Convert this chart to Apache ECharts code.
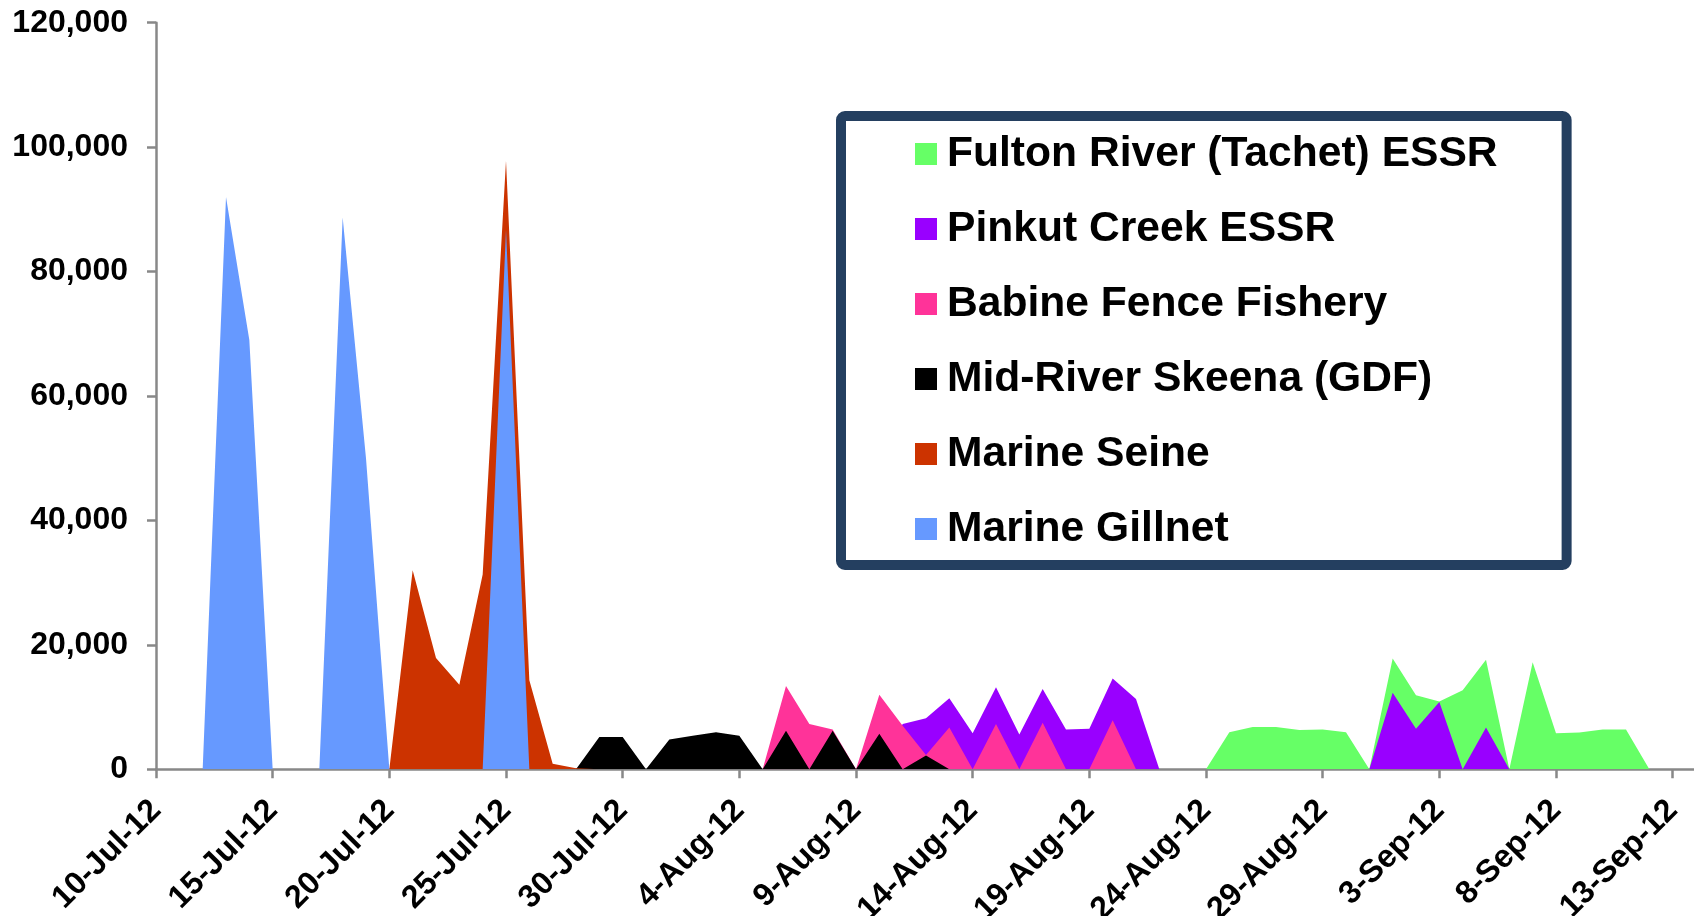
<!DOCTYPE html>
<html>
<head>
<meta charset="utf-8">
<script src="https://cdn.jsdelivr.net/npm/echarts@6/dist/echarts.min.js"></script>
<style>
  html, body { margin: 0; padding: 0; background: #ffffff; }
  #chart { width: 1694px; height: 916px; }
</style>
</head>
<body>
<div id="chart"></div>
<script>
// ---- Data ----
const startDate = '2012-07-10';
const endDay = 66; // axis runs to 14-Sep-12
const xTickLabels = ['10-Jul-12', '15-Jul-12', '20-Jul-12', '25-Jul-12', '30-Jul-12',
  '4-Aug-12', '9-Aug-12', '14-Aug-12', '19-Aug-12', '24-Aug-12', '29-Aug-12',
  '3-Sep-12', '8-Sep-12', '13-Sep-12'];
const yTicks = [0, 20000, 40000, 60000, 80000, 100000, 120000];

const seriesNames = ['Fulton River (Tachet) ESSR', 'Pinkut Creek ESSR', 'Babine Fence Fishery',
  'Mid-River Skeena (GDF)', 'Marine Seine', 'Marine Gillnet'];
const seriesColors = ['#66FF66', '#9900FF', '#FF3399', '#000000', '#CC3300', '#6699FF'];

const fultonRiver = [
  ['2012-08-24', 0], ['2012-08-25', 5950], ['2012-08-26', 6800], ['2012-08-27', 6800],
  ['2012-08-28', 6300], ['2012-08-29', 6400], ['2012-08-30', 5950], ['2012-08-31', 0],
  ['2012-09-01', 17800], ['2012-09-02', 11900], ['2012-09-03', 10900], ['2012-09-04', 12700],
  ['2012-09-05', 17600], ['2012-09-06', 0], ['2012-09-07', 17200], ['2012-09-08', 5800],
  ['2012-09-09', 5900], ['2012-09-10', 6400], ['2012-09-11', 6400], ['2012-09-12', 0]
];
const pinkutCreek = [
  ['2012-08-10', 0], ['2012-08-11', 7300], ['2012-08-12', 8200], ['2012-08-13', 11400],
  ['2012-08-14', 5800], ['2012-08-15', 13200], ['2012-08-16', 5600], ['2012-08-17', 12900],
  ['2012-08-18', 6400], ['2012-08-19', 6500], ['2012-08-20', 14600], ['2012-08-21', 11300],
  ['2012-08-22', 0], ['2012-08-31', 0], ['2012-09-01', 12300], ['2012-09-02', 6500],
  ['2012-09-03', 10800], ['2012-09-04', 0], ['2012-09-05', 6700], ['2012-09-06', 0]
];
const babineFence = [
  ['2012-08-05', 0], ['2012-08-06', 13400], ['2012-08-07', 7300], ['2012-08-08', 6400],
  ['2012-08-09', 0], ['2012-08-10', 12000], ['2012-08-11', 7000], ['2012-08-12', 2300],
  ['2012-08-13', 6700], ['2012-08-14', 0], ['2012-08-15', 7300], ['2012-08-16', 0],
  ['2012-08-17', 7500], ['2012-08-18', 0], ['2012-08-19', 0], ['2012-08-20', 7900],
  ['2012-08-21', 0]
];
const midRiverSkeena = [
  ['2012-07-28', 0], ['2012-07-29', 5200], ['2012-07-30', 5200], ['2012-07-31', 0],
  ['2012-08-01', 4800], ['2012-08-02', 5400], ['2012-08-03', 5950], ['2012-08-04', 5400],
  ['2012-08-05', 0], ['2012-08-06', 6200], ['2012-08-07', 0], ['2012-08-08', 6200],
  ['2012-08-09', 0], ['2012-08-10', 5700], ['2012-08-11', 0], ['2012-08-12', 2200],
  ['2012-08-13', 0]
];
const marineSeine = [
  ['2012-07-20', 0], ['2012-07-21', 32000], ['2012-07-22', 17900], ['2012-07-23', 13600],
  ['2012-07-24', 31300], ['2012-07-25', 97800], ['2012-07-26', 14300], ['2012-07-27', 900],
  ['2012-07-28', 150], ['2012-07-29', 0]
];
const marineGillnet = [
  ['2012-07-12', 0], ['2012-07-13', 92000], ['2012-07-14', 69000], ['2012-07-15', 0],
  ['2012-07-17', 0], ['2012-07-18', 88700], ['2012-07-19', 50000], ['2012-07-20', 0],
  ['2012-07-24', 0], ['2012-07-25', 86700], ['2012-07-26', 0]
];
const seriesData = [fultonRiver, pinkutCreek, babineFence, midRiverSkeena, marineSeine, marineGillnet];

// ---- Helpers ----
const DAY = 86400000;
const t0 = Date.parse(startDate);
function dayIndex(dateStr) { return Math.round((Date.parse(dateStr) - t0) / DAY); }
function fmtThousands(v) { return String(v).replace(/\B(?=(\d{3})+(?!\d))/g, ','); }

const FONT = "'Liberation Sans', Arial, Helvetica, sans-serif";
const AXIS_GRAY = '#888888';

const chart = echarts.init(document.getElementById('chart'), null, { renderer: 'canvas' });

const series = seriesNames.map((name, i) => ({
  name: name,
  type: 'line',
  data: seriesData[i].map(p => [dayIndex(p[0]), p[1]]),
  showSymbol: false,
  symbol: 'none',
  silent: true,
  animation: false,
  itemStyle: { color: seriesColors[i] },
  lineStyle: { width: 0, color: seriesColors[i] },
  areaStyle: { color: seriesColors[i], opacity: 1 }
}));

chart.setOption({
  backgroundColor: '#ffffff',
  animation: false,
  grid: {
    left: 156, top: 22.7, right: -2, bottom: 146.7,
    containLabel: false, outerBoundsMode: 'none'
  },
  legend: {
    data: seriesNames,
    orient: 'vertical',
    left: 841, top: 116,
    icon: 'rect',
    itemWidth: 22, itemHeight: 22,
    itemGap: 31,
    padding: [16, 69, 14, 74],
    backgroundColor: '#ffffff',
    borderColor: '#243F60',
    borderWidth: 10,
    borderRadius: 4,
    selectedMode: false,
    textStyle: {
      fontFamily: FONT, fontSize: 42.6, fontWeight: 'bold', color: '#000000',
      lineHeight: 44, padding: [0, 0, 0, 5]
    }
  },
  xAxis: {
    type: 'value',
    min: 0, max: endDay, interval: 5,
    axisLine: { show: true, onZero: false, lineStyle: { color: AXIS_GRAY, width: 2.5 } },
    axisTick: { show: true, inside: false, length: 9, lineStyle: { color: AXIS_GRAY, width: 2.5 } },
    splitLine: { show: false },
    axisLabel: {
      rotate: 45, margin: 36,
      fontFamily: FONT, fontSize: 32, fontWeight: 'bold', color: '#000000',
      showMaxLabel: false,
      formatter: function (v) {
        if (v % 5 !== 0) return '';
        const lbl = xTickLabels[v / 5];
        return lbl === undefined ? '' : lbl;
      }
    }
  },
  yAxis: {
    type: 'value',
    min: yTicks[0], max: yTicks[yTicks.length - 1], interval: yTicks[1] - yTicks[0],
    axisLine: { show: true, lineStyle: { color: AXIS_GRAY, width: 2.5 } },
    axisTick: { show: true, inside: false, length: 9, lineStyle: { color: AXIS_GRAY, width: 2.5 } },
    splitLine: { show: false },
    axisLabel: {
      margin: 28,
      fontFamily: FONT, fontSize: 32, fontWeight: 'bold', color: '#000000',
      formatter: function (v) { return fmtThousands(v); }
    }
  },
  series: series
});
</script>
</body>
</html>
